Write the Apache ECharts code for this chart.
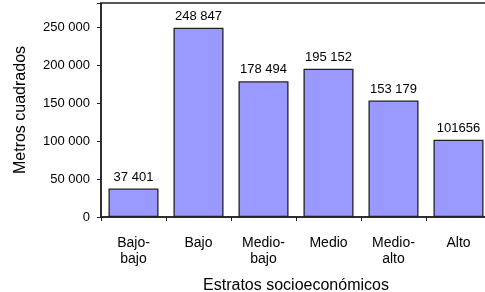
<!DOCTYPE html>
<html><head><meta charset="utf-8">
<script src="https://cdn.jsdelivr.net/npm/echarts@6/dist/echarts.min.js"></script>
<style>html,body{margin:0;padding:0;background:#fff}#c{width:485px;height:292px}</style>
</head><body><div id="c"></div>
<script>
const categories = ['Bajo-\nbajo', 'Bajo', 'Medio-\nbajo', 'Medio', 'Medio-\nalto', 'Alto'];
const values = [37401, 248847, 178494, 195152, 153179, 101656];
const valueLabels = ['37 401', '248 847', '178 494', '195 152', '153 179', '101656'];
const yTicks = ['0', '50 000', '100 000', '150 000', '200 000', '250 000'];

const chart = echarts.init(document.getElementById('c'), null, {renderer: 'canvas'});
const font = 'Liberation Sans, Arial, sans-serif';
chart.setOption({
  animation: false,
  grid: {left: 101, top: 3, width: 390, height: 214, show: true, borderColor: '#222', borderWidth: 1.5,
    backgroundColor: 'transparent', outerBoundsMode: 'none', containLabel: false},
  xAxis: {
    type: 'category', data: categories,
    name: 'Estratos socioeconómicos', nameLocation: 'middle', nameGap: 61,
    nameTextStyle: {fontFamily: font, fontSize: 16, color: '#000'},
    axisLine: {lineStyle: {color: '#222', width: 1.5}},
    axisTick: {show: true, length: 4, lineStyle: {color: '#222'}},
    axisLabel: {fontFamily: font, fontSize: 14, color: '#000', margin: 18, lineHeight: 16}
  },
  yAxis: {
    type: 'value', min: 0, max: 281500, interval: 50000,
    name: 'Metros cuadrados', nameLocation: 'middle', nameGap: 72, nameRotate: 90,
    nameTextStyle: {fontFamily: font, fontSize: 16, color: '#000'},
    axisLine: {show: true, lineStyle: {color: '#222', width: 1.5}},
    axisTick: {show: true, length: 4, lineStyle: {color: '#222'}},
    splitLine: {show: false},
    axisLabel: {fontFamily: font, fontSize: 13, color: '#000', margin: 11,
      formatter: function (v) { const i = Math.round(v / 50000); return (v % 50000 === 0 && yTicks[i] !== undefined) ? yTicks[i] : ''; }}
  },
  series: [{
    type: 'bar', data: values, barCategoryGap: '23%',
    itemStyle: {color: '#9999FF', borderColor: '#222', borderWidth: 1.3},
    label: {show: true, position: 'top', distance: 5, fontFamily: font, fontSize: 13, color: '#000',
      formatter: function (p) { return valueLabels[p.dataIndex]; }}
  }]
});
</script></body></html>
